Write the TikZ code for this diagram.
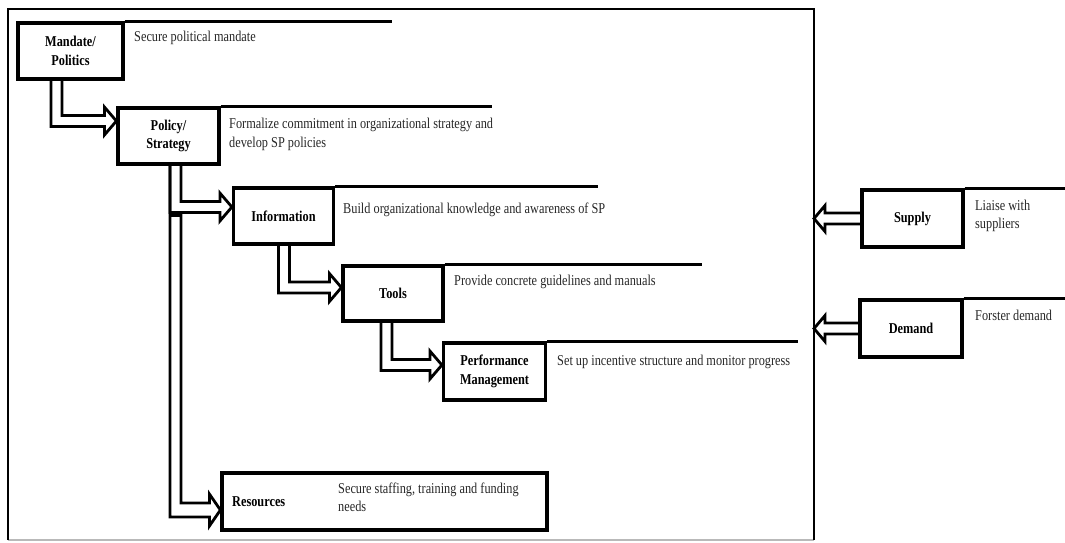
\documentclass[tikz,border=0pt]{standalone}
\usepackage{fontspec}
\setmainfont{Liberation Serif}[FakeStretch=0.82]
\usetikzlibrary{calc}

% L-shaped hollow (double-outline) arrow: from a point on a box bottom to a tip on a box side
\newcommand\elbowarrow[2]{%
  \draw[hollowarrow] let \p1=(#1), \p2=(#2) in
    (\x1-5.5pt,\y1) |- (\x2-12pt,\y2-5.5pt) -- (\x2-12pt,\y2-14pt) -- (\x2,\y2)
    -- (\x2-12pt,\y2+14pt) -- (\x2-12pt,\y2+5.5pt) -| (\x1+5.5pt,\y1);}

% straight hollow arrow pointing left: from a box side to a tip
\newcommand\leftarrowhollow[2]{%
  \draw[hollowarrow] let \p1=(#1), \p2=(#2) in
    (\x1,\y1+5.5pt) -- (\x2+11pt,\y1+5.5pt) -- (\x2+11pt,\y1+13pt) -- (\x2,\y1)
    -- (\x2+11pt,\y1-13pt) -- (\x2+11pt,\y1-5.5pt) -- (\x1,\y1-5.5pt);}

\begin{document}
\begin{tikzpicture}[x=1pt,y=-1pt,
  box/.style={draw, line width=3.2pt, minimum height=56pt, inner sep=0pt, align=center,
    font=\fontsize{15}{18.5}\selectfont\bfseries},
  lbl/.style={inner sep=0pt, anchor=west, font=\fontsize{15}{18.5}\selectfont\bfseries},
  desc/.style={inner sep=0pt, anchor=west, align=left, text=black!85, font=\fontsize{15}{18.5}\selectfont},
  topline/.style={line width=3.2pt},
  hollowarrow/.style={line width=2.8pt, line join=miter},
  frameline/.style={line width=2.8pt}]

\useasboundingbox (0,0) rectangle (1065,542);

% outer frame
\node[inner sep=0pt, outer sep=0pt, minimum width=806pt, minimum height=531pt] (frame) at (411,274.5) {};
\draw[gray!55, line width=1.2pt] (frame.south west) -- (frame.south east);
\draw[frameline] (frame.south west) -- (frame.north west) -- (frame.north east) -- (frame.south east);

% boxes
\node[box, minimum width=105pt] (mandate) at (70.5,51) {Mandate/\\Politics};
\node[box, minimum width=101pt] (policy) at (168.5,136) {Policy/\\Strategy};
\node[box, minimum width=100pt] (information) at (283.5,216) {Information};
\node[box, minimum width=100pt, minimum height=55pt] (tools) at (393,293.5) {Tools};
\node[box, minimum width=102pt, minimum height=57pt] (performance) at (494.5,371.5) {Performance\\Management};
\node[box, minimum width=325pt, minimum height=57pt] (resources) at (384.5,501.5) {};
\node[box, minimum width=101pt, minimum height=57pt] (supply) at (912.5,218.5) {Supply};
\node[box, minimum width=102pt, minimum height=57pt] (demand) at (911,328.5) {Demand};

% rules running from the box tops
\draw[topline] (mandate.north east) -- ++(267,0);
\draw[topline] (policy.north east) -- ++(271,0);
\draw[topline] (information.north east) -- ++(263,0);
\draw[topline] (tools.north east) -- ++(257,0);
\draw[topline] (performance.north east) -- ++(251,0);
\draw[topline] (supply.north east) -- ++(102,0);
\draw[topline] (demand.north east) -- ++(103,0);

% descriptions
\node[desc] (mandatetxt) at (134,38) {Secure political mandate};
\node[desc] (policytxt) at (229,134.5) {Formalize commitment in organizational strategy and\\develop SP policies};
\node[desc] (infotxt) at (343,210) {Build organizational knowledge and awareness of SP};
\node[desc] (toolstxt) at (454,282) {Provide concrete guidelines and manuals};
\node[desc] (perftxt) at (557,362) {Set up incentive structure and monitor progress};
\node[lbl] (reslbl) at (232,502) {Resources};
\node[desc] (restxt) at (338,497.5) {Secure staffing, training and funding\\needs};
\node[desc] (supplytxt) at (975,216) {Liaise with\\suppliers};
\node[desc] (demandtxt) at (975,315) {Forster demand};

% hollow arrows down the cascade
\elbowarrow{[xshift=40pt]mandate.south west}{[yshift=15pt]policy.west}
\elbowarrow{[xshift=59pt]policy.south west}{[yshift=9pt]information.west}
\elbowarrow{[xshift=52pt]information.south west}{[yshift=6pt]tools.west}
\elbowarrow{[xshift=45pt]tools.south west}{[yshift=6.5pt]performance.west}

% branch from Policy/Strategy down to Resources (shares the outer line, capped inner line)
\draw[hollowarrow] let \p1=([xshift=59pt]policy.south west), \p2=([yshift=-8.5pt]resources.west),
    \p3=([yshift=9pt]information.west) in
  (\x1-5.5pt,\y1) |- (\x2-11pt,\y2-7pt) -- (\x2-11pt,\y2-16pt) -- (\x2,\y2)
  -- (\x2-11pt,\y2+16pt) -- (\x2-11pt,\y2+7pt) -| (\x1+5.5pt,\y3-8.5pt) -- (\x1-5.5pt,\y3-8.5pt);

% Supply and Demand feeding into the frame
\leftarrowhollow{supply.west}{frame.east |- supply.west}
\leftarrowhollow{demand.west}{frame.east |- demand.west}
\end{tikzpicture}
\end{document}
